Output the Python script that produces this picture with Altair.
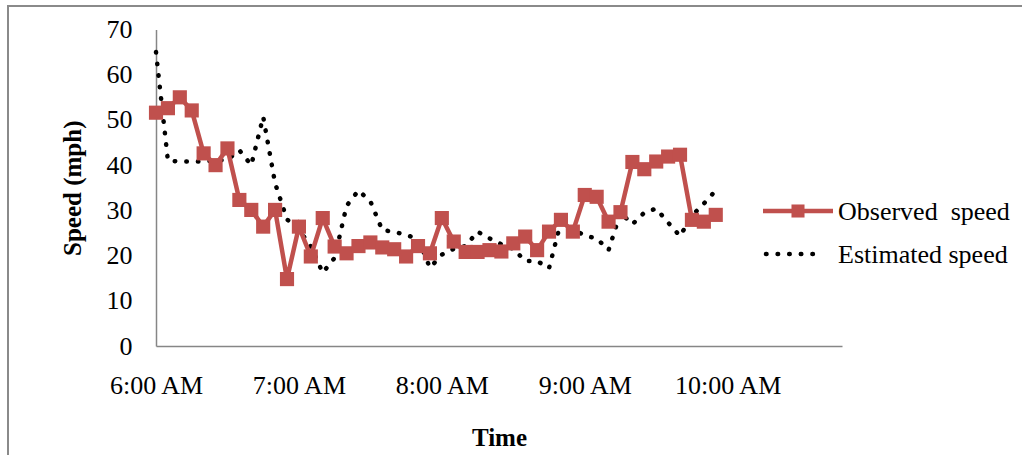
import altair as alt
import pandas as pd

# ---- data (5-minute intervals from 6:00 AM) ----
minutes = list(range(0, 240, 5))
observed = [51.6, 52.6, 55.0, 52.1, 42.6, 40.0, 43.7, 32.3, 30.1, 26.4,
            30.1, 14.8, 26.4, 19.8, 28.3, 22.0, 20.5, 22.1, 22.9, 21.8,
            21.4, 19.8, 22.1, 20.5, 28.3, 23.1, 20.8, 20.8, 21.2, 20.9,
            22.7, 24.2, 21.2, 25.3, 27.9, 25.3, 33.4, 33.0, 27.5, 29.6,
            40.7, 39.1, 40.8, 41.9, 42.3, 27.9, 27.5, 29.0]
estimated = [65.0, 41.0, 40.8, 40.8, 40.8, 41.0, 41.2, 43.3, 40.0, 50.7,
             36.0, 28.0, 25.8, 22.0, 16.2, 19.5, 31.0, 34.4, 32.0, 25.6,
             25.3, 24.5, 23.8, 17.3, 20.2, 21.5, 22.1, 25.3, 23.8, 22.5,
             21.5, 18.8, 18.8, 17.2, 27.5, 25.9, 24.4, 23.8, 21.2, 29.5,
             26.9, 29.5, 30.4, 27.3, 24.3, 28.8, 31.5, 34.4]
series_names = ["Observed\u00a0 speed", "Estimated speed"]
tick_minutes = [0, 60, 120, 180, 240]
tick_labels = ["6:00 AM", "7:00 AM", "8:00 AM", "9:00 AM", "10:00 AM"]
y_ticks = [0, 10, 20, 30, 40, 50, 60, 70]

long = pd.DataFrame({
    "t": minutes * 2,
    "speed": observed + estimated,
    "series": [series_names[0]] * len(minutes) + [series_names[1]] * len(minutes),
})

FONT = "Liberation Serif"
RED = "#C0504D"
GRAY = "#868686"
W, H = 686, 316.5
LBL = 26

label_expr = "[" + ",".join("'%s'" % s for s in tick_labels) + "][round(datum.value / 60)]"

X = alt.X("t:Q",
          scale=alt.Scale(domain=[0, 288], nice=False, zero=False),
          axis=alt.Axis(values=tick_minutes, labelExpr=label_expr, title="Time",
                        grid=False, ticks=False, labelPadding=26,
                        labelFontSize=LBL, labelFont=FONT, labelColor="black",
                        domainColor=GRAY, domainWidth=1.5,
                        titleFont=FONT, titleFontSize=25, titleFontWeight="bold",
                        titleColor="black", titleX=343, titleY=91,
                        titleBaseline="middle", titleAlign="center",
                        labelFlush=False, labelOverlap=False))
Y = alt.Y("speed:Q",
          scale=alt.Scale(domain=[0, 70], nice=False),
          axis=alt.Axis(values=y_ticks, title="Speed (mph)",
                        grid=False, ticks=False, labelPadding=24,
                        labelFontSize=LBL, labelFont=FONT, labelColor="black",
                        labelBaseline="middle",
                        domainColor=GRAY, domainWidth=1.5,
                        titleFont=FONT, titleFontSize=25, titleFontWeight="bold",
                        titleColor="black", titleX=-84, titleY=H / 2,
                        titleAngle=-90, titleBaseline="middle", titleAlign="center",
                        labelFlush=False, labelOverlap=False))

base = alt.Chart(long).encode(x=X, y=Y)

est_line = base.transform_filter(alt.datum.series == series_names[1]).mark_line(
    color="black", strokeWidth=4.5, strokeDash=[0.5, 11.1], strokeCap="round")
obs_line = base.transform_filter(alt.datum.series == series_names[0]).mark_line(
    color=RED, strokeWidth=4.5)
obs_pts = base.transform_filter(alt.datum.series == series_names[0]).mark_point(
    shape="square", size=200, filled=True, color=RED, opacity=1)

# ---- outer frame ----
frame = alt.Chart(alt.Data(values=[{"k": 1}])).mark_rect(
    fillOpacity=0, stroke="#8a8a8a", strokeWidth=2).encode(
    x=alt.value(-148), x2=alt.value(900), y=alt.value(-23.5), y2=alt.value(460))

# ---- legend ----
leg_obs = alt.Data(values=[{"name": series_names[0]}])
leg_est = alt.Data(values=[{"name": series_names[1]}])
leg_obs_line = alt.Chart(leg_obs).mark_rule(color=RED, strokeWidth=4.5).encode(
    x=alt.value(607), x2=alt.value(677), y=alt.value(181.5))
leg_obs_pt = alt.Chart(leg_obs).mark_point(
    shape="square", size=170, filled=True, color=RED, opacity=1).encode(
    x=alt.value(642), y=alt.value(181.5))
leg_obs_txt = alt.Chart(leg_obs).mark_text(
    font=FONT, fontSize=LBL, align="left", baseline="middle", color="black").encode(
    text="name:N", x=alt.value(682), y=alt.value(182))
leg_est_line = alt.Chart(leg_est).mark_rule(
    color="black", strokeWidth=4.5, strokeDash=[0.5, 11.1], strokeCap="round").encode(
    x=alt.value(610), x2=alt.value(668), y=alt.value(224.5))
leg_est_txt = alt.Chart(leg_est).mark_text(
    font=FONT, fontSize=LBL, align="left", baseline="middle", color="black").encode(
    text="name:N", x=alt.value(682), y=alt.value(225))

chart = alt.layer(
    frame, est_line, obs_line, obs_pts,
    leg_obs_line, leg_obs_pt, leg_obs_txt, leg_est_line, leg_est_txt
).properties(
    width=W, height=H,
    autosize=alt.AutoSizeParams(type="none"),
    padding={"left": 156, "top": 29.5, "right": 1022 - 156 - W, "bottom": 455 - 29.5 - H},
    background="white",
).configure_view(stroke=None)

chart.save("out.html", embed_options={"renderer": "svg", "actions": False})
